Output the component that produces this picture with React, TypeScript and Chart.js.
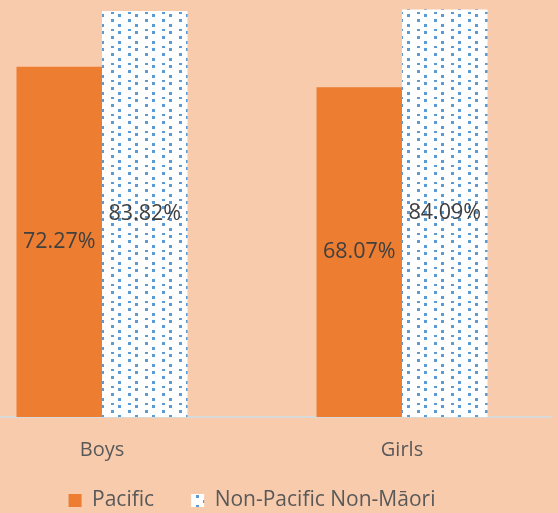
import React, { useEffect, useRef } from 'react';
import { Chart, registerables } from 'chart.js';

Chart.register(...registerables);

const categories = ['Boys', 'Girls'];
const seriesNames = ['Pacific', 'Non-Pacific Non-Māori'];
const pacificValues = [72.27, 68.07];
const nonPacificValues = [83.82, 84.09];
const yMin = 0;
const yMax = 86.07;

const FONT = "'Open Sans', 'DejaVu Sans', sans-serif";

function makeDotPattern(): CanvasPattern | string {
  const tile = document.createElement('canvas');
  tile.width = 17;
  tile.height = 17;
  const c = tile.getContext('2d');
  if (!c) return '#ffffff';
  c.fillStyle = '#ffffff';
  c.fillRect(0, 0, 17, 17);
  c.fillStyle = '#5B9BD5';
  c.fillRect(13, 14, 3, 3);
  c.fillRect(13, 7, 3, 3);
  c.fillRect(6, 12, 3, 2);
  c.fillRect(6, 2, 3, 3);
  const p = c.createPattern(tile, 'repeat');
  return p || '#ffffff';
}

const barLabels = {
  id: 'barLabels',
  afterDatasetsDraw(chart: any) {
    const ctx = chart.ctx;
    ctx.save();
    ctx.font = `21.5px ${FONT}`;
    ctx.fillStyle = '#404040';
    ctx.textAlign = 'center';
    ctx.textBaseline = 'middle';
    chart.data.datasets.forEach((ds: any, di: number) => {
      const meta = chart.getDatasetMeta(di);
      meta.data.forEach((el: any, i: number) => {
        const v = ds.data[i] as number;
        ctx.fillText(v.toFixed(2) + '%', el.x, (el.y + el.base) / 2);
      });
    });
    ctx.restore();
  },
};

// moves the legend box up so that it sits closer to the category labels
const legendShift = {
  id: 'legendShift',
  afterLayout(chart: any) {
    const lg = chart.legend;
    if (lg) {
      lg.top -= 9;
      lg.bottom -= 9;
    }
  },
};

export default function App() {
  const ref = useRef<HTMLCanvasElement | null>(null);

  useEffect(() => {
    if (!ref.current) return;
    const pattern = makeDotPattern();
    const chart = new Chart(ref.current, {
      type: 'bar',
      data: {
        labels: categories,
        datasets: [
          {
            label: seriesNames[0],
            data: pacificValues,
            backgroundColor: '#ED7D31',
            borderWidth: 0,
          },
          {
            label: seriesNames[1],
            data: nonPacificValues,
            backgroundColor: pattern as any,
            borderWidth: 0,
          },
        ],
      },
      options: {
        responsive: false,
        animation: false,
        devicePixelRatio: 1,
        layout: { padding: 0 },
        categoryPercentage: 0.57,
        barPercentage: 1,
        plugins: {
          tooltip: { enabled: false },
          title: { display: false },
          legend: {
            display: true,
            position: 'bottom',
            labels: {
              boxWidth: 13,
              boxHeight: 13,
              padding: 37,
              color: '#595959',
              font: { family: FONT, size: 21 },
            },
          },
        },
        scales: {
          x: {
            grid: { display: false, drawTicks: false },
            border: { display: true, color: '#D9D9D9', width: 2 },
            ticks: {
              color: '#595959',
              font: { family: FONT, size: 20, lineHeight: 1.2 },
              padding: 21,
            },
            afterFit: (scale: any) => {
              scale.height = 45;
            },
          },
          y: {
            display: false,
            min: yMin,
            max: yMax,
          },
        },
      } as any,
      plugins: [barLabels, legendShift],
    });
    return () => chart.destroy();
  }, []);

  return (
    <div
      style={{
        position: 'absolute',
        left: 0,
        top: 0,
        width: 558,
        height: 513,
        overflow: 'hidden',
        background: '#F8CBAD',
      }}
    >
      <canvas
        ref={ref}
        width={600}
        height={530}
        style={{ position: 'absolute', left: -48, top: 0, display: 'block' }}
      />
    </div>
  );
}
